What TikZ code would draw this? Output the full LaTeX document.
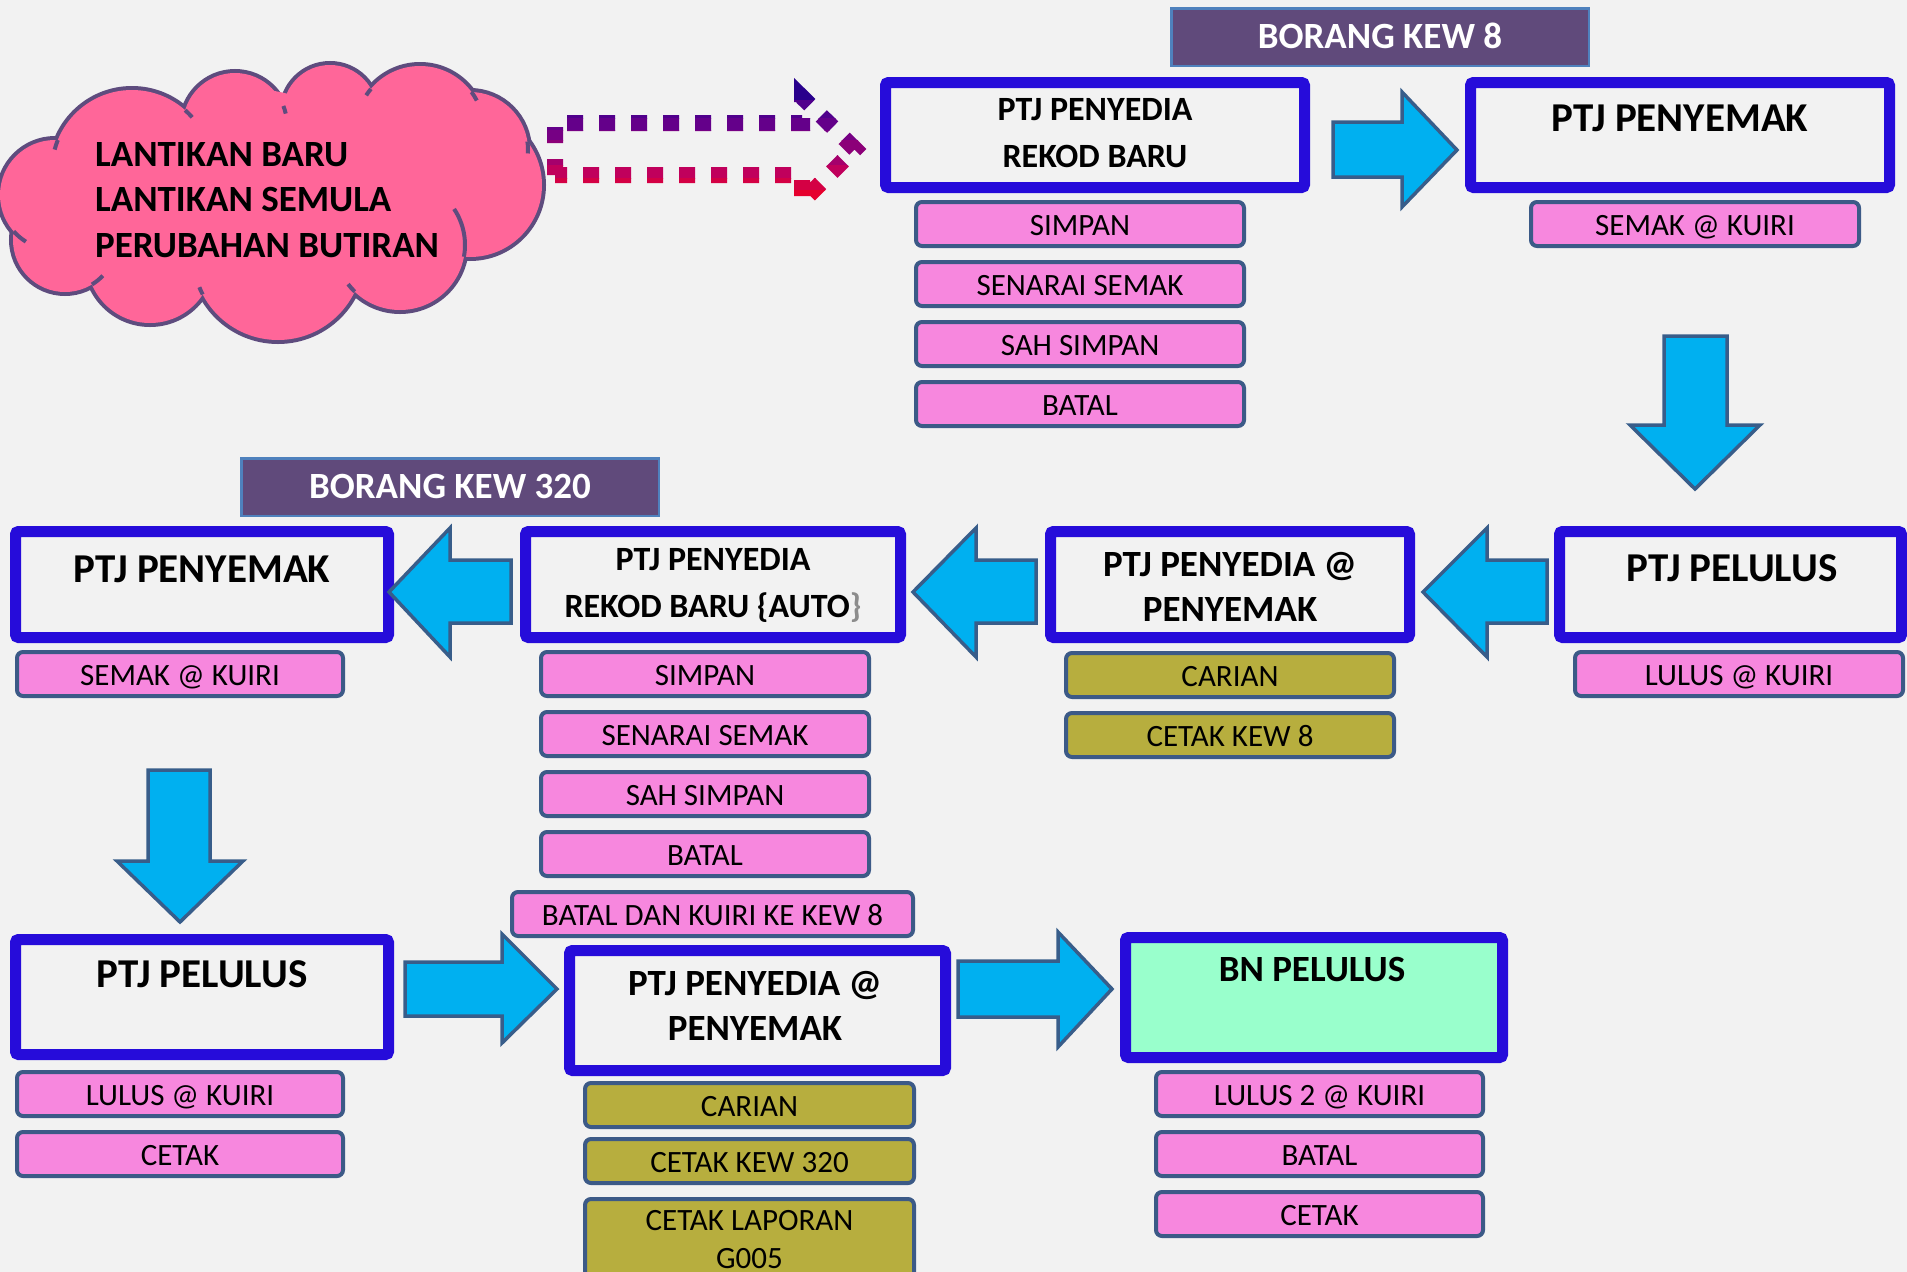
\documentclass[tikz,border=0pt]{standalone}
\usepackage{fontspec}
\setmainfont{Carlito}
\definecolor{bgc}{RGB}{242,242,242}
\definecolor{bbl}{RGB}{38,12,218}
\definecolor{afill}{RGB}{0,176,240}
\definecolor{aedge}{RGB}{56,93,138}
\definecolor{pinkc}{RGB}{247,135,222}
\definecolor{btnedge}{RGB}{60,90,135}
\definecolor{olivec}{RGB}{183,174,62}
\definecolor{tfill}{RGB}{96,74,123}
\definecolor{tedge}{RGB}{79,129,189}
\definecolor{cloudc}{RGB}{255,102,153}
\definecolor{cloudedge}{RGB}{94,76,126}
\definecolor{mintc}{RGB}{153,255,204}
\definecolor{bracegray}{RGB}{140,140,140}
\definecolor{dA}{RGB}{40,0,140}
\definecolor{dB}{RGB}{80,0,140}
\definecolor{dC}{RGB}{100,0,138}
\definecolor{dD}{RGB}{118,0,132}
\definecolor{dE}{RGB}{140,0,120}
\definecolor{dF}{RGB}{165,0,108}
\definecolor{dG}{RGB}{192,0,92}
\definecolor{dH}{RGB}{212,0,68}
\definecolor{dI}{RGB}{230,0,45}
\newcommand\fbtn{\fontsize{31}{37}\selectfont}
\newcommand\fbig{\fontsize{41}{49}\selectfont\bfseries}
\newcommand\fmid{\fontsize{37}{44}\selectfont\bfseries}
\newcommand\fsml{\fontsize{34}{41}\selectfont\bfseries}
\newcommand\mainbx[6][]{\node[mainbox,#1, minimum width={#5-#3-11}, minimum height={#6-#4-11}] (#2) at ({#3+5.5},{#4+5.5}) {};}
\newcommand\rarr[8]{\draw[blk] (#1,#4) -- (#2,#4) -- (#2,#6) -- (#3,#8) -- (#2,#7) -- (#2,#5) -- (#1,#5) -- cycle;}
\newcommand\darr[8]{\draw[blk] (#1,#3) -- (#2,#3) -- (#2,#4) -- (#6,#4) -- (#7,#8) -- (#5,#4) -- (#1,#4) -- cycle;}
% arc stub: circle A (#1,#2,r#3) continues into circle B (#4,#5,r#6) for length #7
\newcommand\cstub[7]{%
 \pgfmathsetmacro\phiA{atan2((#5)-(#2),(#4)-(#1))}%
 \pgfmathsetmacro\dd{veclen((#4)-(#1),(#5)-(#2))}%
 \pgfmathsetmacro\ll{(((\dd)/10)^2+((#3)/10)^2-((#6)/10)^2)*50/(\dd)}%
 \pgfmathsetmacro\al{acos((\ll)/(#3))}%
 \pgfmathsetmacro\tA{\phiA+\al}%
 \pgfmathsetmacro\tB{\phiA-\al}%
 \pgfmathsetmacro\dA{(((#1)+(#3)*cos(\tA)-270)/100)^2+(((#2)+(#3)*sin(\tA)-200)/100)^2}%
 \pgfmathsetmacro\dB{(((#1)+(#3)*cos(\tB)-270)/100)^2+(((#2)+(#3)*sin(\tB)-200)/100)^2}%
 \pgfmathsetmacro\dl{(#7)/(#3)*57.2958}%
 \pgfmathsetmacro\th{\dA>\dB ? \tA : \tB}%
 \pgfmathsetmacro\te{\dA>\dB ? \tA-\dl : \tB+\dl}%
 \draw[cloudedge, line width=4pt] (#1,#2) ++(\th:#3) arc[start angle=\th, end angle=\te, radius=#3];%
}
\begin{document}
\begin{tikzpicture}[x=1pt,y=-1pt,
  mainbox/.style={draw=bbl, line width=11pt, fill=bgc, rounded corners=3pt, inner sep=0pt, outer sep=0pt, anchor=north west},
  btn/.style={draw=btnedge, line width=4pt, fill=pinkc, rounded corners=6pt, inner sep=0pt, text height=22.6pt, text depth=0pt, font=\fbtn, minimum height=44pt},
  obtn/.style={btn, fill=olivec},
  titlebox/.style={draw=tedge, line width=2.5pt, fill=tfill, inner sep=0pt, minimum height=57.5pt, minimum width=417.5pt, text=white, font=\fmid, text height=23.4pt, text depth=0pt},
  blk/.style={draw=aedge, line width=3.5pt, fill=afill, line join=miter},
  lbl/.style={anchor=base, inner sep=0pt},
  dotarr/.style={line width=16pt, dash pattern=on 16pt off 16pt, line cap=butt, line join=miter, miter limit=10}]
\useasboundingbox (0,0) rectangle (1907,1272);
\fill[bgc] (0,0) rectangle (1907,1272);

% ---------- cloud ----------
\foreach \cx/\cy/\r in {132/170/80, 235/125/52, 330/112/47, 420/130/64, 470/150/58, 470/185/72, 400/245/65, 278/255/85, 150/260/63, 65/240/52, 55/195/55}
  \draw[cloudedge, line width=8pt] (\cx,\cy) circle[radius=\r];
\foreach \cx/\cy/\r in {132/170/80, 235/125/52, 330/112/47, 420/130/64, 470/150/58, 470/185/72, 400/245/65, 278/255/85, 150/260/63, 65/240/52, 55/195/55, 260/190/100, 330/190/90}
  \fill[cloudc] (\cx,\cy) circle[radius=\r];
\cstub{132}{170}{80}{55}{195}{55}{10}
\cstub{132}{170}{80}{235}{125}{52}{10}
\cstub{235}{125}{52}{330}{112}{47}{8}
\cstub{420}{130}{64}{330}{112}{47}{8}
\cstub{420}{130}{64}{470}{150}{58}{10}
\cstub{470}{150}{58}{470}{185}{72}{12}
\cstub{400}{245}{65}{470}{185}{72}{50}
\cstub{400}{245}{65}{278}{255}{85}{10}
\cstub{278}{255}{85}{150}{260}{63}{8}
\cstub{65}{240}{52}{150}{260}{63}{14}
\cstub{55}{195}{55}{65}{240}{52}{16}
\node[anchor=base west, inner sep=0pt, font=\fmid] (cl1) at (95,166) {LANTIKAN BARU};
\node[anchor=base west, inner sep=0pt, font=\fmid] (cl2) at (95,211) {LANTIKAN SEMULA};
\node[anchor=base west, inner sep=0pt, font=\fmid] (cl3) at (95,257) {PERUBAHAN BUTIRAN};

% ---------- dotted gradient arrow ----------
\foreach \ya/\yb/\cc in {60/100/dA, 100/118/dB, 118/130/dC, 130/140/dD, 140/155/dE, 155/165/dF, 165/178/dG, 178/190/dH, 190/230/dI}{
  \begin{scope}
    \clip (530,\ya) rectangle (880,\yb);
    \draw[dotarr, draw=\cc] (555,175) -- (555,123) -- (802,123) -- (802,97) -- (855,149) -- (802,202) -- (802,175) -- cycle;
  \end{scope}
}

% ---------- title boxes ----------
\node[titlebox] (kew8) at (1380,37) {BORANG KEW 8};
\node[titlebox] (kew320) at (450,487) {BORANG KEW 320};

% ---------- main boxes ----------
\mainbx{b1}{880}{77}{1310}{193}
\mainbx{b2}{1465}{77}{1895}{193}
\mainbx{b3}{1554}{526}{1907}{643}
\mainbx{b4}{1045}{526}{1415}{643}
\mainbx{b5}{520}{526}{906}{643}
\mainbx{b6}{10}{526}{394}{643}
\mainbx{b7}{10}{934}{394}{1060}
\mainbx{b8}{564}{945}{951}{1076}
\mainbx[fill=mintc]{b9}{1120}{932}{1508}{1063}

\node[lbl, font=\fsml] (b1t1) at (1095,120) {PTJ PENYEDIA};
\node[lbl, font=\fsml] (b1t2) at (1095,167) {REKOD BARU};
\node[lbl, font=\fbig] (b2t) at (1680,131) {PTJ PENYEMAK};
\node[lbl, font=\fbig] (b3t) at (1732,581) {PTJ PELULUS};
\node[lbl, font=\fmid] (b4t1) at (1230,576) {PTJ PENYEDIA @};
\node[lbl, font=\fmid] (b4t2) at (1230,621) {PENYEMAK};
\node[lbl, font=\fsml] (b5t1) at (713,570) {PTJ PENYEDIA};
\node[lbl, font=\fsml] (b5t2) at (713,617) {REKOD BARU \{AUTO\textcolor{bracegray}{\}}};
\node[lbl, font=\fbig] (b6t) at (202,582) {PTJ PENYEMAK};
\node[lbl, font=\fbig] (b7t) at (202,987) {PTJ PELULUS};
\node[lbl, font=\fmid] (b8t1) at (755,995) {PTJ PENYEDIA @};
\node[lbl, font=\fmid] (b8t2) at (755,1040) {PENYEMAK};
\node[lbl, font=\fmid] (b9t) at (1312,981) {BN PELULUS};

% ---------- buttons ----------
\node[btn, minimum width=328pt] (b1a) at (1080,224) {SIMPAN};
\node[btn, minimum width=328pt] (b1b) at (1080,284) {SENARAI SEMAK};
\node[btn, minimum width=328pt] (b1c) at (1080,344) {SAH SIMPAN};
\node[btn, minimum width=328pt] (b1d) at (1080,404) {BATAL};
\node[btn, minimum width=328pt] (b2a) at (1695,224) {SEMAK @ KUIRI};
\node[btn, minimum width=328pt] (b3a) at (1739,674) {LULUS @ KUIRI};
\node[obtn, minimum width=328pt] (b4a) at (1230,675) {CARIAN};
\node[obtn, minimum width=328pt] (b4b) at (1230,735) {CETAK KEW 8};
\node[btn, minimum width=328pt] (b5a) at (705,674) {SIMPAN};
\node[btn, minimum width=328pt] (b5b) at (705,734) {SENARAI SEMAK};
\node[btn, minimum width=328pt] (b5c) at (705,794) {SAH SIMPAN};
\node[btn, minimum width=328pt] (b5d) at (705,854) {BATAL};
\node[btn, minimum width=401pt] (b5e) at (712.5,914) {BATAL DAN KUIRI KE KEW 8};
\node[btn, minimum width=326pt] (b6a) at (180,674) {SEMAK @ KUIRI};
\node[btn, minimum width=326pt] (b7a) at (180,1094) {LULUS @ KUIRI};
\node[btn, minimum width=326pt] (b7b) at (180,1154) {CETAK};
\node[obtn, minimum width=329pt] (b8a) at (749.5,1105) {CARIAN};
\node[obtn, minimum width=329pt] (b8b) at (749.5,1161) {CETAK KEW 320};
\node[obtn, minimum width=329pt, minimum height=96pt] (b8c) at (749.5,1247) {};
\node[lbl, font=\fbtn] (b8c1) at (749.5,1230) {CETAK LAPORAN};
\node[lbl, font=\fbtn] (b8c2) at (749.5,1268) {G005};
\node[btn, minimum width=327pt] (b9a) at (1319.5,1094) {LULUS 2 @ KUIRI};
\node[btn, minimum width=327pt] (b9b) at (1319.5,1154) {BATAL};
\node[btn, minimum width=327pt] (b9c) at (1319.5,1214) {CETAK};

% ---------- block arrows ----------
\rarr{1333}{1402}{1457}{122}{177}{92}{207}{150}
\darr{1664}{1727}{336}{425}{1630}{1760}{1695}{489}
\rarr{1547}{1487}{1423}{560}{623}{528}{657}{592}
\rarr{1036}{976}{913}{560}{623}{528}{657}{592}
\rarr{511}{450}{389}{560}{623}{528}{657}{592}
\darr{148}{210}{770}{861}{117}{243}{180}{922}
\rarr{405}{502}{557}{962}{1016}{934}{1043}{989}
\rarr{958}{1058}{1112}{961}{1017}{932}{1047}{989}
\end{tikzpicture}
\end{document}
